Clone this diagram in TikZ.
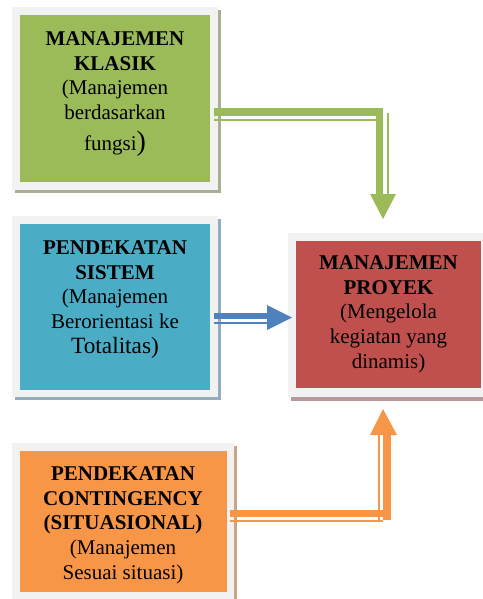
\documentclass[tikz,border=0pt]{standalone}
\usepackage{fontspec}
\setmainfont{Liberation Serif}

\definecolor{kgreen}{HTML}{9BBB59}
\definecolor{kblue}{HTML}{4BACC6}
\definecolor{kred}{HTML}{C0504D}
\definecolor{korange}{HTML}{F79646}
\definecolor{arrowblue}{HTML}{4F81BD}
\definecolor{framegray}{HTML}{F2F2F2}
\definecolor{sgreen}{HTML}{A7AF95}
\definecolor{sblue}{HTML}{93ADBD}
\definecolor{sred}{HTML}{B89A9B}
\definecolor{sorange}{HTML}{C9A584}

\begin{document}
\begin{tikzpicture}[x=0.75pt,y=-0.75pt]
          \tikzstyle{panel}=[inner sep=0pt,draw=none]
          \tikzstyle{caption}=[align=center,inner sep=0pt,font=\fontsize{15.75}{18.5}\selectfont]
          \tikzstyle{thick band}=[line width=5.6pt]
          \tikzstyle{thin band}=[line width=1.5pt]

          \useasboundingbox (0,0) rectangle (482,599);

          % frames and shadows
          \fill[sgreen] (15,10) rectangle (221,193);
          \fill[framegray] (12,7) rectangle (218,190);
          \fill[sblue] (15,219) rectangle (221,400);
          \fill[framegray] (12,216) rectangle (218,397);
          \fill[sred] (291,237) rectangle (495,401);
          \fill[framegray] (288,233) rectangle (490,397);
          \fill[sorange] (15,446) rectangle (237,602);
          \fill[framegray] (12,443) rectangle (234,599);

          \node (klasik) at (115,98.5) [panel,fill=kgreen,minimum width=142.5pt,minimum height=125.25pt] {};
          \node (sistem) at (115,307) [panel,fill=kblue,minimum width=142.5pt,minimum height=124.5pt] {};
          \node (proyek) at (388.5,314.5) [panel,fill=kred,minimum width=138.75pt,minimum height=110.25pt] {};
          \node (situasi) at (123.5,521.5) [panel,fill=korange,minimum width=155.25pt,minimum height=105.75pt] {};

          \node (klasiktext) at (klasik.center |- 0,94) [caption] {\textbf{MANAJEMEN}\\\textbf{KLASIK}\\(Manajemen\\berdasarkan\\[4.5pt]fungsi{\fontsize{21}{18.5}\selectfont)}};
          \node (sistemtext) at (sistem.center |- 0,299.5) [caption] {\textbf{PENDEKATAN}\\\textbf{SISTEM}\\(Manajemen\\Berorientasi ke\\{\fontsize{17.5}{18.5}\selectfont Totalitas)}};
          \node (proyektext) at (proyek.center |- 0,314) [caption] {\textbf{MANAJEMEN}\\\textbf{PROYEK}\\(Mengelola\\kegiatan yang\\dinamis)};
          \node (situasitext) at (123,525) [caption] {\textbf{PENDEKATAN}\\\textbf{CONTINGENCY}\\\textbf{(SITUASIONAL)}\\(Manajemen\\Sesuai situasi)};

          % green connector
          \coordinate (g1) at (214,112);
          \coordinate (g2) at (379.5,112);
          \coordinate (g3) at (379.5,195);
          \coordinate (gtip) at (383,219);
          \draw[kgreen,thick band,miter limit=4] (g1) -- (g2) -- (g3);
          \draw[kgreen,thin band] (214,120) -- (377,120);
          \draw[kgreen,thin band] (388,113) -- (388,195);
          \fill[kgreen] (370,194) -- (396,194) -- (gtip) -- cycle;

          % blue connector
          \coordinate (b1) at (214,316);
          \coordinate (b2) at (268,316);
          \coordinate (btip) at (292,317.5);
          \draw[arrowblue,line width=4.6pt] (b1) -- (b2);
          \draw[arrowblue,thin band] (214,323) -- (268,323);
          \fill[arrowblue] (267,305) -- (267,330) -- (btip) -- cycle;

          % orange connector
          \coordinate (o1) at (230,513.5);
          \coordinate (o2) at (383,513.5);
          \coordinate (o3) at (386.5,520);
          \coordinate (o4) at (386.5,434);
          \coordinate (otip) at (383,409);
          \draw[korange,thick band] (o1) -- (o2);
          \draw[korange,line width=6pt] (o3) -- (o4);
          \draw[korange,thin band] (230,521) -- (383,521);
          \draw[korange,thin band] (378.5,520) -- (378.5,434);
          \fill[korange] (370,435) -- (397,435) -- (otip) -- cycle;
        \end{tikzpicture}
\end{document}
